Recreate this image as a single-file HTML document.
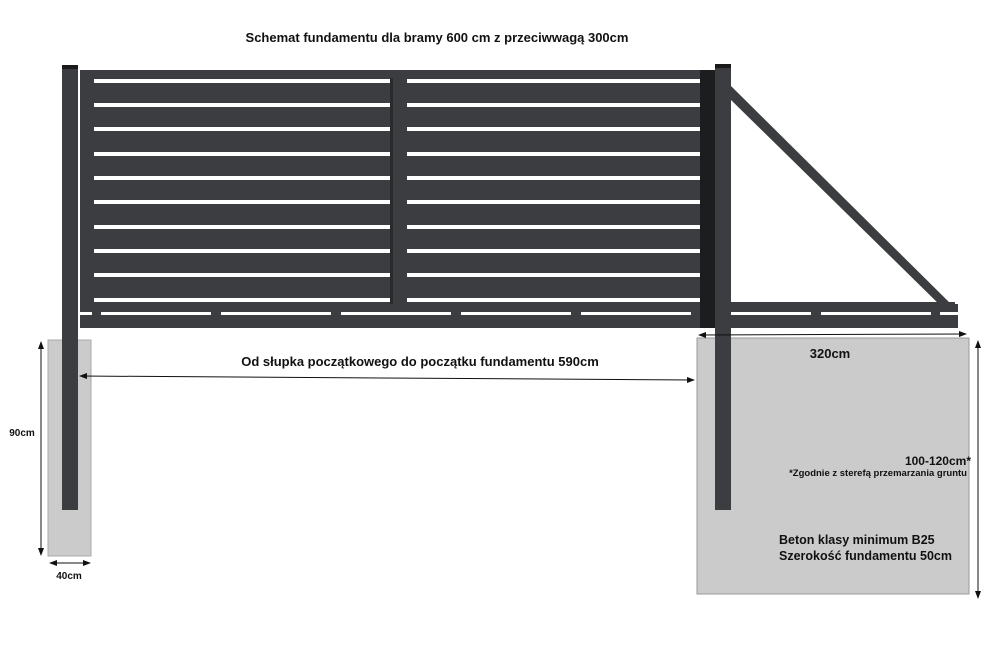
<!DOCTYPE html>
<html><head><meta charset="utf-8"><style>
html,body{margin:0;padding:0;background:#fff;}
svg{display:block;}
text{font-family:"Liberation Sans",sans-serif;font-weight:bold;fill:#111;}
</style></head><body>
<svg width="1000" height="653" viewBox="0 0 1000 653" xmlns="http://www.w3.org/2000/svg">
<defs>
<marker id="a" markerWidth="8" markerHeight="6" refX="7" refY="3" orient="auto-start-reverse"><path d="M0,0 L8,3 L0,6 z" fill="#111"/></marker>
</defs>
<text x="437" y="42" font-size="13" text-anchor="middle">Schemat fundamentu dla bramy 600 cm z przeciwwagą 300cm</text>
<rect x="48" y="340" width="43" height="216" fill="#cbcbcb" stroke="#aaa" stroke-width="1"/>
<rect x="697" y="338" width="272" height="256" fill="#cbcbcb" stroke="#999" stroke-width="1"/>
<rect x="80" y="70" width="636" height="258" fill="#3b3d40"/>
<rect x="80" y="304" width="878" height="24" fill="#3b3d40"/>
<g fill="#fff">
<rect x="94" y="79" width="296" height="4"/><rect x="407" y="79" width="296" height="4"/>
<rect x="94" y="103" width="296" height="4"/><rect x="407" y="103" width="296" height="4"/>
<rect x="94" y="127" width="296" height="4"/><rect x="407" y="127" width="296" height="4"/>
<rect x="94" y="152" width="296" height="4"/><rect x="407" y="152" width="296" height="4"/>
<rect x="94" y="176" width="296" height="4"/><rect x="407" y="176" width="296" height="4"/>
<rect x="94" y="200" width="296" height="4"/><rect x="407" y="200" width="296" height="4"/>
<rect x="94" y="225" width="296" height="4"/><rect x="407" y="225" width="296" height="4"/>
<rect x="94" y="249" width="296" height="4"/><rect x="407" y="249" width="296" height="4"/>
<rect x="94" y="273" width="296" height="4"/><rect x="407" y="273" width="296" height="4"/>
<rect x="94" y="298" width="296" height="4"/><rect x="407" y="298" width="296" height="4"/>
<rect x="80" y="312" width="12" height="3"/>
<rect x="101" y="312" width="110" height="3"/><rect x="221" y="312" width="110" height="3"/>
<rect x="341" y="312" width="110" height="3"/><rect x="461" y="312" width="110" height="3"/>
<rect x="581" y="312" width="110" height="3"/><rect x="700" y="312" width="14" height="3"/>
<rect x="731" y="312" width="80" height="3"/><rect x="821" y="312" width="110" height="3"/>
<rect x="940" y="312" width="18" height="3"/>
</g>
<rect x="390" y="78" width="3" height="226" fill="#2a2b2d"/>
<rect x="700" y="70" width="16" height="258" fill="#1c1d1f"/>
<rect x="731" y="302" width="224" height="9" fill="#3b3d40"/>
<path d="M731,86 L731,100 L946,311 L958,311 Z" fill="#3b3d40"/>
<rect x="62" y="65" width="16" height="445" fill="#3b3d40"/>
<rect x="62" y="65" width="16" height="4" fill="#1a1a1a"/>
<rect x="715" y="64" width="16" height="446" fill="#3b3d40"/>
<rect x="715" y="64" width="16" height="4" fill="#1a1a1a"/>
<g stroke="#111" stroke-width="1" fill="none">
<line x1="80" y1="376" x2="694" y2="380" marker-start="url(#a)" marker-end="url(#a)"/>
<line x1="699" y1="335" x2="966" y2="334" marker-start="url(#a)" marker-end="url(#a)"/>
<line x1="978" y1="341" x2="978" y2="598" marker-start="url(#a)" marker-end="url(#a)"/>
<line x1="41" y1="342" x2="41" y2="555" marker-start="url(#a)" marker-end="url(#a)"/>
<line x1="50" y1="563" x2="90" y2="563" marker-start="url(#a)" marker-end="url(#a)"/>
</g>
<text x="420" y="366" font-size="13" text-anchor="middle">Od słupka początkowego do początku fundamentu 590cm</text>
<text x="830" y="358" font-size="13" text-anchor="middle">320cm</text>
<text x="22" y="436" font-size="10" text-anchor="middle">90cm</text>
<text x="69" y="579" font-size="10" text-anchor="middle">40cm</text>
<text x="971" y="465" font-size="12" text-anchor="end">100-120cm*</text>
<text x="967" y="476" font-size="9.5" text-anchor="end">*Zgodnie z sterefą przemarzania gruntu</text>
<text x="779" y="544" font-size="12.5">Beton klasy minimum B25</text>
<text x="779" y="560" font-size="12.5">Szerokość fundamentu 50cm</text>
</svg>
</body></html>
